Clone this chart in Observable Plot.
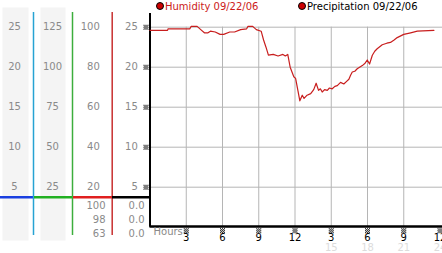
<!DOCTYPE html>
<html><head><meta charset="utf-8">
<script src="https://cdn.jsdelivr.net/npm/d3@7"></script>
<script src="https://cdn.jsdelivr.net/npm/@observablehq/plot@0.6"></script>
<style>
html,body{margin:0;padding:0;background:#fff;}
#wrap{position:relative;width:442px;height:253px;display:flex;overflow:hidden;font-family:"DejaVu Sans",sans-serif;}
#wrap svg{display:block;flex:none;overflow:visible;}
.leg{position:absolute;top:0;font-size:10px;line-height:13px;white-space:nowrap;}
.leg i{display:inline-block;width:6px;height:6px;border-radius:50%;background:#cc0000;border:1px solid #000;margin-right:1px;vertical-align:0px;}
</style></head><body><div id="wrap"></div>
<script>
// ---- data ----
const hours = [0,1.45,1.5,3.3,3.4,3.9,4.2,4.5,4.8,5.0,5.4,5.8,6.1,6.6,7.0,7.5,8.0,8.1,8.5,8.8,9.2,9.4,9.6,9.8,10.2,10.6,11.0,11.2,11.4,11.6,11.9,12.05,12.25,12.4,12.6,12.75,13.0,13.3,13.55,13.75,13.95,14.1,14.25,14.45,14.67,14.85,15.08,15.3,15.5,15.77,16.04,16.25,16.46,16.6,16.74,16.95,17.15,17.57,17.8,17.98,18.17,18.4,18.6,18.8,19.22,19.6,19.9,20.2,20.46,21.0,21.57,22.12,23.5];
const humidity = [24.6,24.6,24.8,24.8,25.1,25.1,24.7,24.3,24.3,24.5,24.4,24.1,24.1,24.4,24.4,24.7,24.8,25.1,25.1,24.7,24.5,23.4,22.5,21.5,21.6,21.4,21.6,21.4,21.6,20.0,18.8,18.6,17.0,15.8,16.5,16.1,16.5,16.7,17.2,18.0,17.1,17.3,16.9,17.2,17.1,17.4,17.3,17.6,17.7,18.1,17.9,18.2,18.5,19.0,19.4,19.5,19.8,20.2,20.5,20.9,20.4,21.5,22.0,22.3,22.8,23.0,23.1,23.4,23.7,24.1,24.3,24.5,24.6];
const gridTicks = [5,10,15,20,25];
const labelsA = [5,10,15,20,25];
const labelsB = [25,50,75,100,125];
const labelsC = [20,40,60,80,100];
const labelsD = [5,10,15,20,25];
const currentC = ["100","98","63"];
const currentD = ["0.0","0.0","0.0"];
const xTicks = [3,6,9,12,15,18,21,24];
const xGridTicks = [3,6,9,12,15,18,21];
const clockLabels = ["3","6","9","12","3","6","9","12"];
const hourLabels = ["","","","","15","18","21","24"];
const legendItems = ["Humidity 09/22/06","Precipitation 09/22/06"];
const tableTop = 3.75;

// ---- layout ----
const H = 253;
const gray = "#8a8a8a";
const yOpts = {domain:[0,25], range:[226.7,26.7], axis:null};
const font = {fontFamily:"DejaVu Sans", fontSize:"10px", background:"transparent", overflow:"visible"};
// small checkered tick marker
const checker = {draw(ctx) { for (let r = 0; r < 5; r++) for (let c = 0; c < 5; c++) if ((r + c) % 2 === 0) ctx.rect(c - 2.5, r - 2.5, 1, 1); }};

function column(o) {
  const marks = [];
  if (o.bg) marks.push(Plot.frame({fill:"#f4f4f4", stroke:"none", insetLeft:o.bg[0], insetRight:o.bg[1], insetTop:-5, insetBottom:-5}));
  marks.push(Plot.ruleY([tableTop], {stroke:o.sep, strokeWidth:2.5}));
  if (o.line) marks.push(Plot.ruleX([1], {stroke:o.line, strokeWidth:1.5}));
  marks.push(Plot.text(gridTicks, {y:d=>d, text:(d,i)=>String(o.labels[i]), frameAnchor:"left", dx:o.dx, textAnchor:o.anchor, fill:gray}));
  if (o.current) marks.push(Plot.text([o.current.join("\n")], {text:d=>d, frameAnchor:"bottom-left", lineAnchor:"bottom", dx:o.cdx, dy:1.8, textAnchor:"end", lineHeight:1.42, fill:gray}));
  if (o.markers) marks.push(Plot.dot(gridTicks, {y:d=>d, frameAnchor:"right", dx:-3.5, symbol:checker, fill:"#000", stroke:"none", r:3}));
  return Plot.plot({
    width:o.width, height:H, marginTop:12, marginBottom:18, marginLeft:0, marginRight:0,
    x:{domain:[0,1], range:[0, o.width - o.lineInset], axis:null},
    y:yOpts, style:font, marks
  });
}

const wrap = document.getElementById("wrap");
wrap.append(column({width:34, lineInset:1, bg:[2,6], line:"#27a3d3", sep:"#1a3fe0", labels:labelsA, dx:14, anchor:"middle"}));
wrap.append(column({width:39, lineInset:1, bg:[6,8], line:"#3cae3c", sep:"#22b022", labels:labelsB, dx:18, anchor:"middle"}));
wrap.append(column({width:39, lineInset:0.3, line:"#c83030", sep:"#e02020", labels:labelsC, dx:26.3, anchor:"end", current:currentC, cdx:32}));
wrap.append(column({width:37, lineInset:0, sep:"#000", labels:labelsD, dx:25.3, anchor:"end", current:currentD, cdx:32, markers:true}));

const series = hours.map((h,i)=>({h, v:humidity[i]}));
const main = Plot.plot({
  width:293, height:H, marginTop:13, marginBottom:26.3, marginLeft:0.5, marginRight:0,
  x:{domain:[0,24], range:[0.5,290.5], axis:null},
  y:yOpts, style:font,
  marks:[
    Plot.gridY(gridTicks, {stroke:"#b5b5b5", strokeOpacity:1}),
    Plot.gridX(xGridTicks, {y1:0, y2:d3.max(gridTicks), stroke:"#b5b5b5", strokeOpacity:1}),
    Plot.ruleX([0], {stroke:"#000", strokeWidth:2}),
    Plot.ruleY([0], {stroke:"#000", strokeWidth:2.7, dy:-0.7}),
    Plot.line(series, {x:"h", y:"v", stroke:"#c81e1e", strokeWidth:1.2}),
    Plot.dot(xTicks, {x:d=>d, frameAnchor:"bottom", dy:3.5, symbol:checker, fill:"#000", stroke:"none", r:3}),
    Plot.text(xTicks, {x:d=>d, text:(d,i)=>clockLabels[i], frameAnchor:"bottom", lineAnchor:"middle", dy:11, fill:"#000"}),
    Plot.text(xTicks, {x:d=>d, text:(d,i)=>hourLabels[i], frameAnchor:"bottom", lineAnchor:"middle", dy:21, fill:"#dcdcdc"}),
    Plot.text(["Hours"], {text:d=>d, frameAnchor:"bottom-left", lineAnchor:"middle", dx:3.5, dy:4.5, textAnchor:"start", fill:gray})
  ]
});
wrap.append(main);

// legend
const legPos = [156, 298];
const legColor = ["#cc1a1a", "#000"];
legendItems.forEach((t,i)=>{
  const d = document.createElement("div");
  d.className = "leg";
  d.style.left = legPos[i] + "px";
  d.style.color = legColor[i];
  d.innerHTML = "<i></i>" + t;
  wrap.append(d);
});
</script></body></html>
